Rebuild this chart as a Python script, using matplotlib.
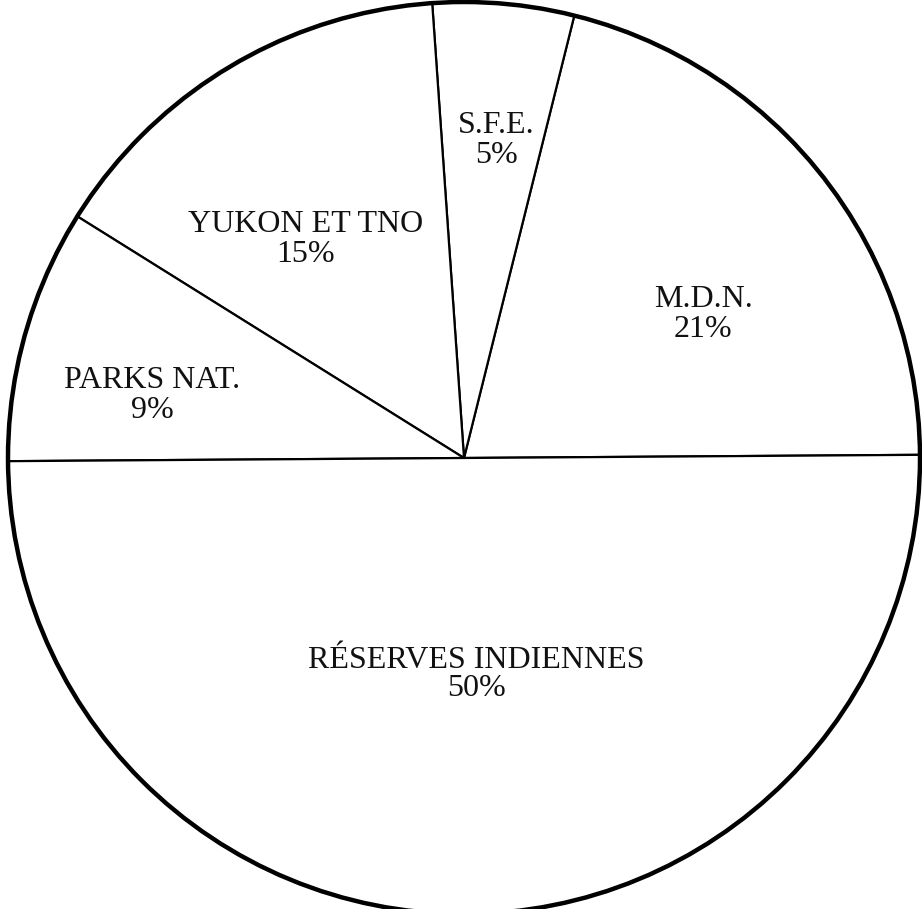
import matplotlib.pyplot as plt
from matplotlib.patches import Circle

# slices, counter-clockwise from the right horizontal
labels = ['M.D.N.', 'S.F.E.', 'YUKON ET TNO', 'PARKS NAT.', 'RÉSERVES INDIENNES']
pct = [21, 5, 15, 9, 50]

# hand placed label spots (x centre, baseline of name, baseline of %), pixels from top-left
label_pos = [(703, 307, 337), (496, 133, 163), (306, 232, 262),
             (152, 388, 418), (476, 668, 696)]

W, H = 922, 909
fig = plt.figure(figsize=(W / 100, H / 100), dpi=100)
ax = fig.add_axes([0, 0, 1, 1])
ax.set_aspect('equal')
ax.axis('off')

cx, cy, r = 464, H - 458, 456

# the scan is turned a hair counter-clockwise
ax.pie(pct, startangle=0.4, counterclock=True, center=(cx, cy), radius=r,
       colors=['white'] * len(pct),
       wedgeprops=dict(edgecolor='black', linewidth=1.6))
ax.add_patch(Circle((cx, cy), r, fill=False, edgecolor='black', linewidth=3.2))
ax.set_xlim(0, W)
ax.set_ylim(0, H)

font = dict(family='Liberation Serif', fontsize=23, color='#111111',
            ha='center', va='baseline')
for lab, p, (x, y1, y2) in zip(labels, pct, label_pos):
    ax.text(x, H - y1, lab, **font)
    ax.text(x, H - y2, f'{p}%', **font)

fig.savefig('out.png', dpi=100, facecolor='white')
